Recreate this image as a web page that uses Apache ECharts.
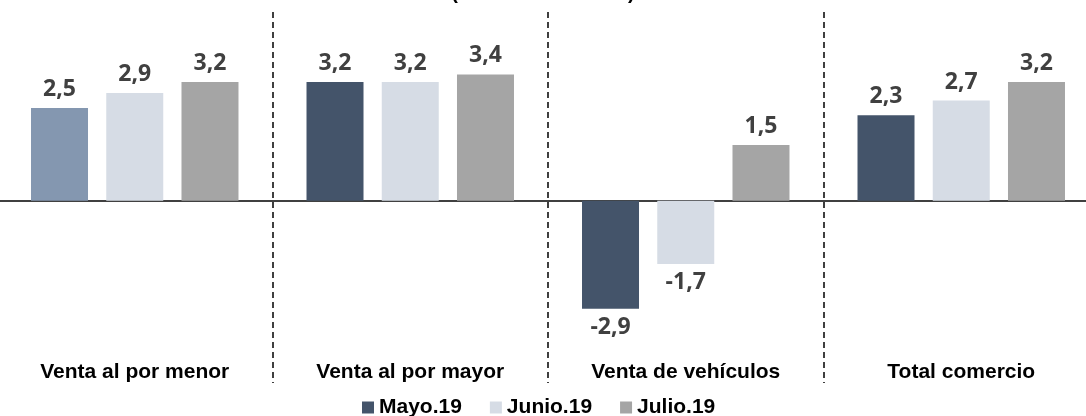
<!DOCTYPE html>
<html>
<head>
<meta charset="utf-8">
<script src="https://cdn.jsdelivr.net/npm/echarts@6/dist/echarts.min.js"></script>
<style>
  html, body { margin: 0; padding: 0; background: #fff; }
  #main { width: 1086px; height: 416px; }
</style>
</head>
<body>
<div id="main"></div>
<script>
var categories = ['Venta al por menor', 'Venta al por mayor', 'Venta de vehículos', 'Total comercio'];
var seriesNames = ['Mayo.19', 'Junio.19', 'Julio.19'];
var mayo = [2.5, 3.2, -2.9, 2.3];
var junio = [2.9, 3.2, -1.7, 2.7];
var julio = [3.2, 3.4, 1.5, 3.2];

var colors = ['#44546A', '#D6DCE5', '#A5A5A5'];
var firstBarColor = '#8497B0';

var chartDom = document.getElementById('main');
var myChart = echarts.init(chartDom);
var option;

function toItems(values, idx) {
    return values.map(function (v, i) {
        var item = {
            value: v,
            label: { position: v < 0 ? 'bottom' : 'top' }
        };
        if (idx === 0 && i === 0) {
            item.itemStyle = { color: firstBarColor };
        }
        return item;
    });
}

var labelStyle = {
    show: true,
    fontFamily: 'Open Sans',
    fontWeight: 'bold',
    fontSize: 23,
    color: '#404040',
    distance: 7,
    formatter: function (p) {
        return p.value.toFixed(1).replace('.', ',');
    }
};

option = {
    animation: false,
    title: {
        text: '(Variación % anual)',
        left: 'center',
        top: -22,
        textStyle: {
            fontFamily: 'Liberation Sans',
            fontWeight: 'bold',
            fontSize: 20,
            color: '#000'
        }
    },
    legend: {
        data: seriesNames,
        bottom: -7,
        left: 357,
        itemWidth: 12,
        itemHeight: 12,
        itemGap: 28,
        icon: 'rect',
        textStyle: {
            fontFamily: 'Liberation Sans',
            fontWeight: 'bold',
            fontSize: 21,
            color: '#000'
        }
    },
    grid: {
        left: -3,
        width: 1102,
        top: 12,
        bottom: 33,
        containLabel: false,
        outerBoundsMode: 'none'
    },
    xAxis: {
        type: 'category',
        data: categories,
        axisLine: { onZero: true, lineStyle: { color: '#000', width: 1.5 } },
        axisTick: { show: false },
        axisLabel: {
            margin: -21,
            fontFamily: 'Liberation Sans',
            fontWeight: 'bold',
            fontSize: 21,
            color: '#000'
        },
        splitLine: {
            show: true,
            lineStyle: { color: '#000', width: 1.5, type: [6, 4] }
        }
    },
    yAxis: {
        type: 'value',
        min: -4.9,
        max: 5.08,
        show: false,
        splitLine: { show: false }
    },
    series: [
        {
            name: seriesNames[0],
            type: 'bar',
            barWidth: 57,
            barGap: '32%',
            itemStyle: { color: colors[0] },
            label: labelStyle,
            data: toItems(mayo, 0)
        },
        {
            name: seriesNames[1],
            type: 'bar',
            barWidth: 57,
            barGap: '32%',
            itemStyle: { color: colors[1] },
            label: labelStyle,
            data: toItems(junio, 1)
        },
        {
            name: seriesNames[2],
            type: 'bar',
            barWidth: 57,
            barGap: '32%',
            itemStyle: { color: colors[2] },
            label: labelStyle,
            data: toItems(julio, 2)
        }
    ]
};

option && myChart.setOption(option);
</script>
</body>
</html>
